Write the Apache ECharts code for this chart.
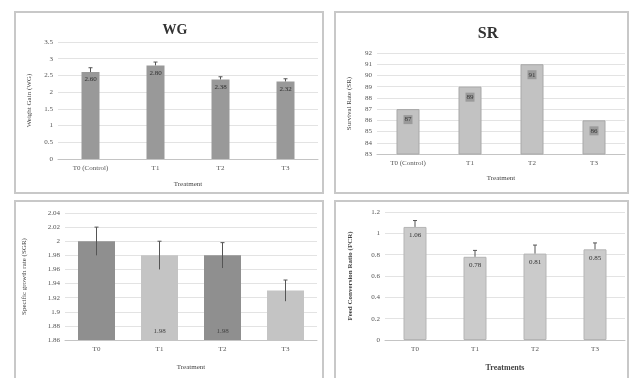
<!DOCTYPE html>
<html><head><meta charset="utf-8">
<script src="https://cdn.jsdelivr.net/npm/echarts@6/dist/echarts.min.js"></script>
<style>html,body{margin:0;padding:0;background:#fff}#c{width:633px;height:378px}</style>
</head><body><div id="c"></div>
<script>
// Weight gain (WG)
const wgCats = ['T0 (Control)', 'T1', 'T2', 'T3'];
const wgValues = [2.60, 2.80, 2.38, 2.32];
const wgErr = [0.13, 0.10, 0.08, 0.08];
const wgAxis = { min: 0, max: 3.5, interval: 0.5 };

// Survival rate (SR)
const srCats = ['T0 (Control)', 'T1', 'T2', 'T3'];
const srValues = [87, 89, 91, 86];
const srAxis = { min: 83, max: 92, interval: 1 };

// Specific growth rate (SGR)
const sgrCats = ['T0', 'T1', 'T2', 'T3'];
const sgrValues = [2.00, 1.98, 1.98, 1.93];
const sgrErr = [0.02, 0.02, 0.018, 0.015];
const sgrShowLabel = [false, true, true, false];
const sgrAxis = { min: 1.86, max: 2.04, interval: 0.02 };

// Feed conversion ratio (FCR)
const fcrCats = ['T0', 'T1', 'T2', 'T3'];
const fcrValues = [1.06, 0.78, 0.81, 0.85];
const fcrErr = [0.06, 0.06, 0.08, 0.06];
const fcrAxis = { min: 0, max: 1.2, interval: 0.2 };

const FONT = 'Liberation Serif';
const gridLine = { show: true, lineStyle: { color: '#e3e3e3', width: 1 } };

function yAxis(idx, ax, name, gap, fmt, bold) {
  return {
    type: 'value', gridIndex: idx, min: ax.min, max: ax.max, interval: ax.interval,
    name: name, nameLocation: 'middle', nameGap: gap,
    nameTextStyle: { fontFamily: FONT, fontSize: 7, color: '#444', fontWeight: bold ? 'bold' : 'normal' },
    axisLine: { show: false }, axisTick: { show: false },
    axisLabel: { fontFamily: FONT, fontSize: 7, color: '#555', margin: 5, formatter: fmt },
    splitLine: gridLine
  };
}
function xAxis(idx, cats, name, gap, bold) {
  return {
    type: 'category', gridIndex: idx, data: cats,
    name: name, nameLocation: 'middle', nameGap: gap,
    nameTextStyle: { fontFamily: FONT, fontSize: bold ? 8 : 7, color: '#444', fontWeight: bold ? 'bold' : 'normal' },
    axisLine: { show: true, lineStyle: { color: '#c4c4c4' } }, axisTick: { show: false },
    axisLabel: { fontFamily: FONT, fontSize: 7, color: '#555', margin: 6 }
  };
}
function errSeries(idx, values, errs, below) {
  return {
    type: 'custom', xAxisIndex: idx, yAxisIndex: idx, z: 5, silent: true,
    data: values.map((v, i) => [i, below ? v - errs[i] : v, v + errs[i]]),
    renderItem: function (params, api) {
      const lo = api.coord([api.value(0), api.value(1)]);
      const hi = api.coord([api.value(0), api.value(2)]);
      const st = { stroke: '#555', lineWidth: 1 };
      return { type: 'group', children: [
        { type: 'line', shape: { x1: hi[0], y1: lo[1], x2: hi[0], y2: hi[1] }, style: st },
        { type: 'line', shape: { x1: hi[0] - 2, y1: hi[1], x2: hi[0] + 2, y2: hi[1] }, style: st }
      ] };
    }
  };
}
const two = v => v.toFixed(2);

const option = {
  backgroundColor: '#fff',
  animation: false,
  title: [
    { text: 'WG', left: 170, top: 18, textAlign: 'center',
      textStyle: { fontFamily: FONT, fontSize: 14, fontWeight: 'bold', color: '#333' } },
    { text: 'SR', left: 483, top: 21, textAlign: 'center',
      textStyle: { fontFamily: FONT, fontSize: 16, fontWeight: 'bold', color: '#333' } }
  ],
  graphic: [
    { type: 'rect', shape: { x: 15, y: 12, width: 308, height: 181 }, style: { fill: 'none', stroke: '#c8c8c8', lineWidth: 2 } },
    { type: 'rect', shape: { x: 335, y: 12, width: 293, height: 181 }, style: { fill: 'none', stroke: '#c8c8c8', lineWidth: 2 } },
    { type: 'rect', shape: { x: 15, y: 201, width: 308, height: 185 }, style: { fill: 'none', stroke: '#c8c8c8', lineWidth: 2 } },
    { type: 'rect', shape: { x: 335, y: 201, width: 293, height: 185 }, style: { fill: 'none', stroke: '#c8c8c8', lineWidth: 2 } }
  ],
  grid: [
    { left: 58, top: 42, width: 260, height: 117 },
    { left: 377, top: 53, width: 248, height: 101 },
    { left: 65, top: 213, width: 252, height: 127 },
    { left: 385, top: 212, width: 240, height: 128 }
  ],
  xAxis: [
    xAxis(0, wgCats, 'Treatment', 22, false),
    xAxis(1, srCats, 'Treatment', 21, false),
    xAxis(2, sgrCats, 'Treatment', 24, false),
    xAxis(3, fcrCats, 'Treatments', 24, true)
  ],
  yAxis: [
    yAxis(0, wgAxis, 'Weight Gain (WG)', 25, v => String(v), false),
    yAxis(1, srAxis, 'Survival Rate (SR)', 24, v => String(v), false),
    yAxis(2, sgrAxis, 'Specific growth rate (SGR)', 37, v => String(Number(v.toFixed(2))), false),
    yAxis(3, fcrAxis, 'Feed Conversion Ratio (FCR)', 31, v => String(Number(v.toFixed(1))), true)
  ],
  series: [
    { type: 'bar', xAxisIndex: 0, yAxisIndex: 0, data: wgValues, barWidth: 18,
      itemStyle: { color: '#999999' },
      label: { show: true, position: 'insideTop', distance: 4, formatter: p => two(p.value),
        fontFamily: FONT, fontSize: 7, color: '#2e2e2e' } },
    errSeries(0, wgValues, wgErr, false),
    { type: 'bar', xAxisIndex: 1, yAxisIndex: 1, data: srValues, barWidth: 23,
      itemStyle: { color: '#c2c2c2', borderColor: '#a8a8a8', borderWidth: 1 },
      label: { show: true, position: 'insideTop', distance: 6, formatter: p => String(p.value),
        fontFamily: FONT, fontSize: 7, color: '#333', backgroundColor: '#9a9a9a', padding: [1, 1] } },
    { type: 'bar', xAxisIndex: 2, yAxisIndex: 2, barWidth: 37,
      data: sgrValues.map((v, i) => ({ value: v, itemStyle: { color: i % 2 === 0 ? '#8f8f8f' : '#c4c4c4' } })),
      label: { show: true, position: 'insideBottom', distance: 5,
        formatter: p => sgrShowLabel[p.dataIndex] ? two(p.value) : '',
        fontFamily: FONT, fontSize: 7, color: '#444' } },
    errSeries(2, sgrValues, sgrErr, true),
    { type: 'bar', xAxisIndex: 3, yAxisIndex: 3, data: fcrValues, barWidth: 23,
      itemStyle: { color: '#cbcbcb', borderColor: '#b5b5b5', borderWidth: 1 },
      label: { show: true, position: 'insideTop', distance: 5, formatter: p => two(p.value),
        fontFamily: FONT, fontSize: 7, color: '#333' } },
    errSeries(3, fcrValues, fcrErr, false)
  ]
};
echarts.init(document.getElementById('c')).setOption(option);
</script></body></html>
